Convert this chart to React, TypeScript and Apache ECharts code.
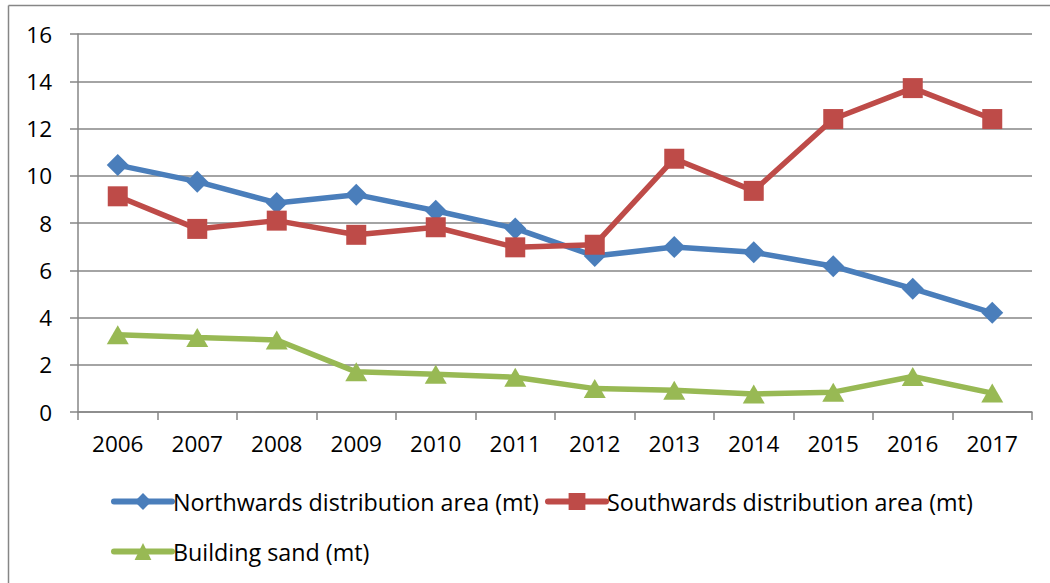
import React, { useEffect, useRef } from "react";
import * as echarts from "echarts";

const years = ["2006", "2007", "2008", "2009", "2010", "2011", "2012", "2013", "2014", "2015", "2016", "2017"];
const northwards = [10.45, 9.75, 8.85, 9.2, 8.52, 7.77, 6.6, 6.98, 6.76, 6.17, 5.22, 4.2];
const southwards = [9.13, 7.75, 8.1, 7.5, 7.82, 6.97, 7.08, 10.72, 9.36, 12.4, 13.71, 12.4];
const buildingSand = [3.27, 3.15, 3.05, 1.7, 1.6, 1.47, 0.99, 0.92, 0.76, 0.84, 1.5, 0.8];
const seriesNames = ["Northwards distribution area (mt)", "Southwards distribution area (mt)", "Building sand (mt)"];
const colors = ["#4A7EBB", "#BE4B48", "#98B954"];

const FONT = "'Open Sans', Lato, sans-serif";

export default function App() {
  const ref = useRef<HTMLDivElement>(null);
  useEffect(() => {
    if (!ref.current) return;
    const chart = echarts.init(ref.current, undefined, { renderer: "svg" });
    const legendBase = {
      itemWidth: 58,
      itemHeight: 21,
      itemGap: 4,
      lineStyle: { width: 6, cap: "round" },
      textStyle: { fontFamily: FONT, fontSize: 23.3, color: "#000", padding: [0, 0, 0, -4] },
      orient: "horizontal" as const,
    };
    chart.setOption({
      animation: false,
      backgroundColor: "#fff",
      textStyle: { fontFamily: FONT },
      grid: { left: 78, right: 18, top: 34, bottom: 171, containLabel: false },
      legend: [
        { ...legendBase, left: 106, top: 485, data: [seriesNames[0]] },
        { ...legendBase, left: 540, top: 485, data: [seriesNames[1]] },
        { ...legendBase, left: 106, top: 535, data: [seriesNames[2]] },
      ],
      xAxis: {
        type: "category",
        data: years,
        boundaryGap: true,
        axisLine: { lineStyle: { color: "#868686", width: 1.5 } },
        axisTick: { show: true, length: 8, lineStyle: { color: "#868686", width: 1.5 } },
        axisLabel: { color: "#000", fontSize: 22.5, fontFamily: FONT, margin: 20 },
      },
      yAxis: {
        type: "value",
        min: 0,
        max: 16,
        interval: 2,
        axisLine: { show: true, lineStyle: { color: "#868686", width: 1.5 } },
        axisTick: { show: true, length: 8, lineStyle: { color: "#868686", width: 1.5 } },
        splitLine: { lineStyle: { color: "#868686", width: 1.5 } },
        axisLabel: { color: "#000", fontSize: 22.5, fontFamily: FONT, margin: 26 },
      },
      graphic: [
        { type: "line", shape: { x1: 8.5, y1: 5.5, x2: 1050, y2: 5.5 }, style: { stroke: "#868686", lineWidth: 1.5 } },
        { type: "line", shape: { x1: 8.5, y1: 5.5, x2: 8.5, y2: 583 }, style: { stroke: "#868686", lineWidth: 1.5 } },
      ],
      series: [
        {
          name: seriesNames[0],
          type: "line",
          data: northwards,
          symbol: "diamond",
          symbolSize: 22,
          lineStyle: { width: 5.5, color: colors[0] },
          itemStyle: { color: colors[0] },
        },
        {
          name: seriesNames[1],
          type: "line",
          data: southwards,
          symbol: "rect",
          symbolSize: 20,
          lineStyle: { width: 5.5, color: colors[1] },
          itemStyle: { color: colors[1] },
        },
        {
          name: seriesNames[2],
          type: "line",
          data: buildingSand,
          symbol: "triangle",
          symbolSize: [22, 19],
          lineStyle: { width: 5.5, color: colors[2] },
          itemStyle: { color: colors[2] },
        },
      ],
    });
    return () => chart.dispose();
  }, []);
  return (
    <div
      ref={ref}
      style={{ position: "fixed", left: 0, top: 0, width: 1050, height: 583 }}
    />
  );
}
